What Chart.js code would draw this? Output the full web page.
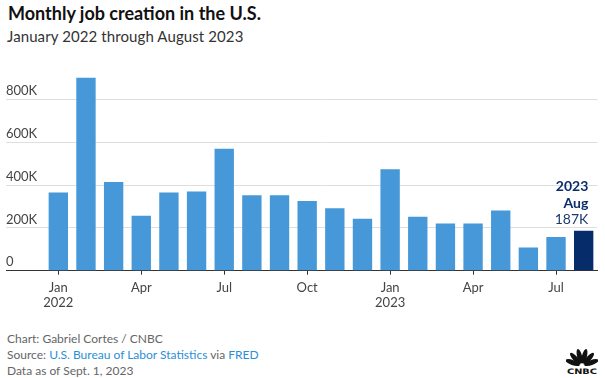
<!DOCTYPE html>
<html>
<head>
<meta charset="utf-8">
<script src="https://cdn.jsdelivr.net/npm/chart.js@4/dist/chart.umd.min.js"></script>
<style>
  html, body { margin: 0; padding: 0; background: #fff; }
  body { width: 605px; height: 378px; position: relative; overflow: hidden; font-family: Lato, "Open Sans", sans-serif; }
  #title { position: absolute; left: 8px; top: 2px; font-size: 18px; font-weight: 700; color: #111; white-space: nowrap; }
  #subtitle { position: absolute; left: 7px; top: 27px; font-size: 15px; color: #333; white-space: nowrap; letter-spacing: 0.1px; }
  #wrap { position: absolute; left: 0; top: 50px; width: 605px; height: 265px; }
  #footer { position: absolute; left: 7px; top: 331px; font-size: 12px; line-height: 16px; color: #666; white-space: nowrap; }
  #footer a { color: #2a8fd6; text-decoration: none; }
  #logo { position: absolute; left: 566px; top: 345px; width: 32px; height: 30px; }
</style>
</head>
<body>
<div id="title">Monthly job creation in the U.S.</div>
<div id="subtitle">January 2022 through August 2023</div>
<div id="wrap"><canvas id="c"></canvas></div>
<div id="footer">
  <div>Chart: Gabriel Cortes / CNBC</div>
  <div>Source: <a>U.S. Bureau of Labor Statistics</a> via <a>FRED</a></div>
  <div>Data as of Sept. 1, 2023</div>
</div>
<svg id="logo" viewBox="0 0 32 30">
  <g fill="#111">
    <ellipse cx="16" cy="11" rx="2.5" ry="7.5" transform="rotate(-14 16 21)"/>
    <ellipse cx="16" cy="11" rx="2.5" ry="7.5" transform="rotate(14 16 21)"/>
    <ellipse cx="16" cy="11" rx="2.5" ry="7.5" transform="rotate(-42 16 21)"/>
    <ellipse cx="16" cy="11" rx="2.5" ry="7.5" transform="rotate(42 16 21)"/>
    <ellipse cx="16" cy="11" rx="2.5" ry="7.5" transform="rotate(-70 16 21)"/>
    <ellipse cx="16" cy="11" rx="2.5" ry="7.5" transform="rotate(70 16 21)"/>
  </g>
  <text x="16" y="29" text-anchor="middle" font-family="DejaVu Sans" font-weight="bold" font-size="7.5" fill="#111" textLength="30" lengthAdjust="spacingAndGlyphs">CNBC</text>
</svg>
<script>
const months = ["Jan","Feb","Mar","Apr","May","Jun","Jul","Aug","Sep","Oct","Nov","Dec",
                "Jan","Feb","Mar","Apr","May","Jun","Jul","Aug"];
const years = ["2022","2022","2022","2022","2022","2022","2022","2022","2022","2022","2022","2022",
               "2023","2023","2023","2023","2023","2023","2023","2023"];
const jobs = [366000, 903000, 415000, 257000, 366000, 371000, 571000, 353000, 353000, 326000, 292000, 243000,
              475000, 252000, 221000, 221000, 282000, 109000, 158000, 187000];
const yTicks = [0, 200000, 400000, 600000, 800000];
const yTickLabels = ["0", "200K", "400K", "600K", "800K"];
const shownMonths = ["Jan", "Apr", "Jul", "Oct"];

const lastIdx = jobs.length - 1;
const barColors = jobs.map((v, i) => i === lastIdx ? "#062d69" : "#4698d8");

const annotate = {
  id: "annotate",
  afterDatasetsDraw(chart) {
    const bar = chart.getDatasetMeta(0).data[lastIdx];
    const ctx = chart.ctx;
    const x = bar.x + bar.width / 2 - 5;
    ctx.save();
    ctx.textAlign = "right";
    ctx.textBaseline = "middle";
    ctx.fillStyle = "#0b2d6b";
    ctx.font = "bold 14px Lato";
    ctx.fillText(years[lastIdx], x, bar.y - 44.5);
    ctx.fillText(months[lastIdx], x, bar.y - 27.5);
    ctx.font = "14px Lato";
    ctx.fillStyle = "#1d3b70";
    ctx.fillText(Math.round(jobs[lastIdx] / 1000) + "K", x, bar.y - 11.5);
    ctx.restore();
  }
};

new Chart(document.getElementById("c"), {
  type: "bar",
  data: {
    labels: months,
    datasets: [{
      data: jobs,
      backgroundColor: barColors,
      borderWidth: 0,
      barPercentage: 0.7,
      categoryPercentage: 1.0
    }]
  },
  options: {
    responsive: true,
    maintainAspectRatio: false,
    animation: false,
    events: [],
    layout: { padding: { left: 6, right: 7.5, top: 9.2, bottom: 0 } },
    plugins: { legend: { display: false }, tooltip: { enabled: false } },
    scales: {
      x: {
        z: 1,
        afterFit: (s) => { s.height = 44.3; },
        border: { display: true, color: "#333", width: 1 },
        grid: {
          offset: false,
          drawOnChartArea: false,
          drawTicks: true,
          tickLength: 4,
          color: "#333"
        },
        ticks: {
          autoSkip: false,
          maxRotation: 0,
          padding: 5,
          color: "#444",
          font: { family: "Lato", size: 13, lineHeight: 1.2 },
          callback: (v, i) => {
            const m = months[i];
            if (!shownMonths.includes(m)) return null;
            return m === "Jan" ? [m, years[i]] : m;
          }
        }
      },
      y: {
        min: 0,
        max: 990000,
        afterFit: (s) => { s.width = 38.5; },
        afterBuildTicks: (s) => { s.ticks = yTicks.map(v => ({ value: v })); },
        border: { display: false },
        grid: {
          drawTicks: true,
          tickLength: 38.5,
          color: (c) => (c.tick && c.tick.value === 0) ? "#333" : "#dedede",
          lineWidth: 1
        },
        ticks: {
          mirror: false,
          crossAlign: "far",
          labelOffset: -8.5,
          padding: 0,
          color: "#444",
          font: { family: "Lato", size: 13 },
          callback: (v) => yTickLabels[yTicks.indexOf(v)]
        }
      }
    }
  },
  plugins: [annotate]
});
</script>
</body>
</html>
